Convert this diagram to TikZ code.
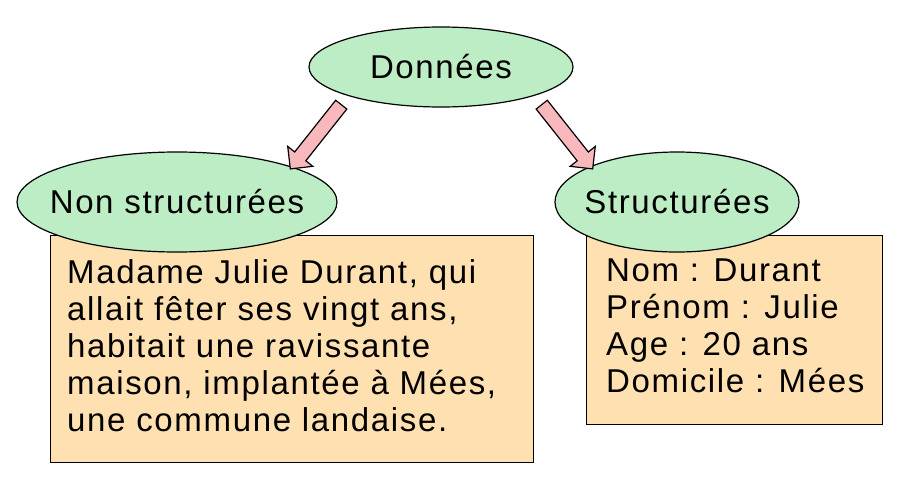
\documentclass[tikz,border=0pt]{standalone}
\usepackage{fontspec}
\setmainfont{Liberation Sans}[LetterSpace=5]
\usetikzlibrary{shapes.geometric,shapes.arrows}
\definecolor{ell}{HTML}{BDEDC4}
\definecolor{boxc}{HTML}{FFE0B0}
\definecolor{arr}{HTML}{F9B8BC}
\tikzset{
  ov/.style={ellipse,draw,line width=1.2pt,fill=ell,inner sep=0pt},
  lab/.style={inner sep=0pt,font=\fontsize{33}{36}\selectfont},
  bx/.style={draw,line width=1.2pt,fill=boxc,anchor=north west,inner sep=0pt},
  txt/.style={anchor=north west,align=left,inner sep=0pt,font=\fontsize{33}{37}\selectfont},
  ar/.style={single arrow,draw,line width=1.2pt,fill=arr,minimum width=32pt,single arrow head extend=7pt,minimum height=82pt,inner sep=5pt}
}
\begin{document}
\begin{tikzpicture}[x=1pt,y=-1pt]
\useasboundingbox (0,0) rectangle (900,477);
\node[bx,minimum width=483pt,minimum height=227pt] (bl) at (50,235) {};
\node[bx,minimum width=296pt,minimum height=189pt] (br) at (586,235) {};
\node[ov,minimum width=264pt,minimum height=80pt] (d) at (441,67) {};
\node[lab] (dl) at (d) {Données};
\node[ov,minimum width=320pt,minimum height=100pt] (ns) at (177,202) {};
\node[lab] (nsl) at (ns) {Non structurées};
\node[ov,minimum width=244pt,minimum height=100pt] (s) at (677,202) {};
\node[lab] (sl) at (s) {Structurées};
\node[ar,rotate=-128.4] (a1) at (318,134) {};
\node[ar,rotate=-51.6] (a2) at (565,134) {};
\node[txt] (t1) at (67,259) {Madame Julie Durant, qui\\allait fêter ses vingt ans,\\habitait une ravissante\\maison, implantée à Mées,\\une commune landaise.};
\node[txt] (t2) at (606,259) {Nom : Durant\\Prénom : Julie\\Age : 20 ans\\Domicile : Mées};
\end{tikzpicture}
\end{document}
